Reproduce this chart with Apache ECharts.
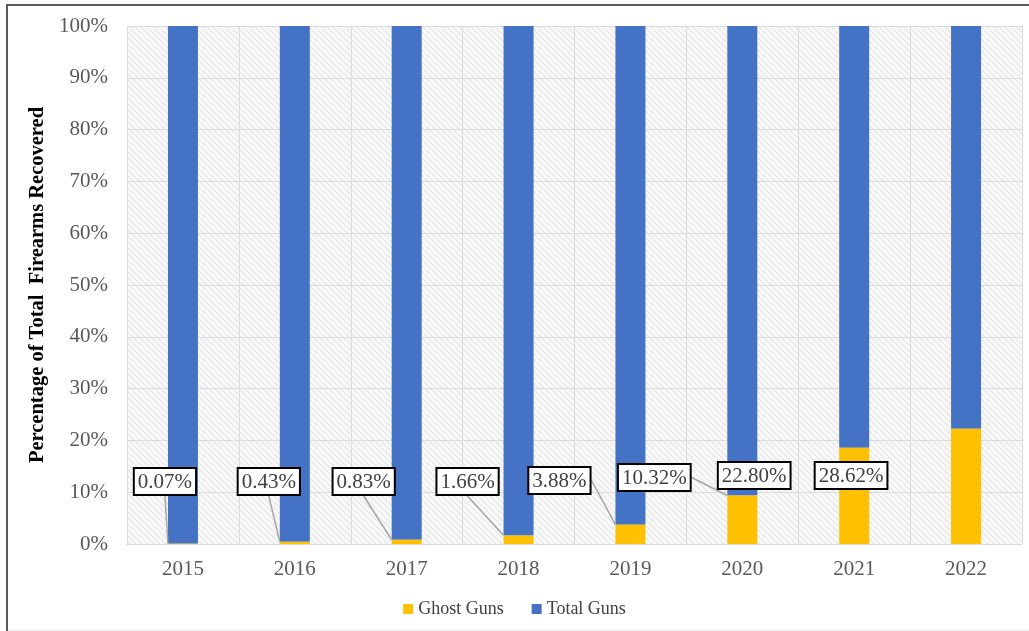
<!DOCTYPE html>
<html>
<head>
<meta charset="utf-8">
<script src="https://cdn.jsdelivr.net/npm/echarts@6/dist/echarts.min.js"></script>
<style>
  html, body { margin: 0; padding: 0; background: #fff; }
  #chart { width: 1029px; height: 631px; }
</style>
</head>
<body>
<div id="chart"></div>
<script>
// data
var years = ["2015", "2016", "2017", "2018", "2019", "2020", "2021", "2022"];
var ghostGuns = [0.07, 0.43, 0.83, 1.66, 3.88, 10.32, 22.8, 28.62]; // % of total guns
var totalGuns = [100, 100, 100, 100, 100, 100, 100, 100];
var yTicks = [0, 10, 20, 30, 40, 50, 60, 70, 80, 90, 100];

// callout box offsets (style only)
var labelDx = [-18, -26, -43, -51, -71, -88, -100, -115];
var labelDy = [-50, -50, -50, -50, -51, -54, -56, -56];

var SERIF = "'Liberation Serif', 'Times New Roman', serif";

// 100% stacked: share of each part in the bar
var ghostShare = ghostGuns.map(function(g, i) { return g / (g + totalGuns[i]) * 100; });
var totalShare = totalGuns.map(function(t, i) { return t / (ghostGuns[i] + t) * 100; });

// light diagonal hatch for the plot background
function hatch() {
  var c = document.createElement("canvas");
  c.width = 6; c.height = 6;
  var ctx = c.getContext("2d");
  ctx.fillStyle = "#f8f8f8";
  ctx.fillRect(0, 0, 6, 6);
  ctx.strokeStyle = "#e0e0e0";
  ctx.lineWidth = 1;
  ctx.beginPath();
  ctx.moveTo(0, 0); ctx.lineTo(6, 6);
  ctx.moveTo(-3, 3); ctx.lineTo(3, 9);
  ctx.moveTo(3, -3); ctx.lineTo(9, 3);
  ctx.stroke();
  return c;
}

var chart = echarts.init(document.getElementById("chart"));

var option = {
  animation: false,
  backgroundColor: "#fff",
  textStyle: { fontFamily: SERIF },
  graphic: [
    { type: "line", shape: { x1: 6, y1: 5, x2: 1029, y2: 5 }, style: { stroke: "#5a5a5a", lineWidth: 2 } },
    { type: "line", shape: { x1: 7, y1: 4, x2: 7, y2: 631 }, style: { stroke: "#5a5a5a", lineWidth: 2 } },
    { type: "line", shape: { x1: 8, y1: 630, x2: 1029, y2: 630 }, style: { stroke: "#e6e6e6", lineWidth: 1 } }
  ],
  grid: {
    left: 127,
    right: 7,
    top: 26,
    bottom: 87,
    show: true,
    borderWidth: 0,
    backgroundColor: { image: hatch(), repeat: "repeat" }
  },
  legend: {
    left: "center",
    top: 595,
    itemWidth: 10,
    itemHeight: 10,
    itemGap: 28,
    icon: "rect",
    textStyle: { fontFamily: SERIF, fontSize: 18, color: "#404040" },
    data: ["Ghost Guns", "Total Guns"]
  },
  xAxis: {
    type: "category",
    data: years,
    axisLine: { lineStyle: { color: "#d9d9d9", width: 1 } },
    axisTick: { show: false },
    axisLabel: { fontFamily: SERIF, fontSize: 21, color: "#595959", margin: 15 },
    splitLine: { show: true, lineStyle: { color: "#dcdcdc", width: 1 } }
  },
  yAxis: {
    type: "value",
    min: 0,
    max: 100,
    interval: 10,
    name: "Percentage of Total  Firearms Recovered",
    nameLocation: "middle",
    nameGap: 74,
    nameTextStyle: { fontFamily: SERIF, fontSize: 20.5, fontWeight: "bold", color: "#000" },
    axisLine: { show: false },
    axisTick: { show: false },
    axisLabel: {
      fontFamily: SERIF, fontSize: 21, color: "#595959", margin: 19,
      formatter: function(v) { return yTicks.indexOf(v) >= 0 ? v + "%" : ""; }
    },
    splitLine: { lineStyle: { color: "#dcdcdc", width: 1 } }
  },
  series: [
    {
      name: "Ghost Guns",
      type: "bar",
      stack: "all",
      barWidth: 30,
      itemStyle: { color: "#FFC000" },
      data: ghostShare.map(function(v, i) {
        return {
          value: v,
          labelLine: { show: i < 6 }
        };
      }),
      label: {
        show: true,
        position: "insideBottom",
        distance: 0,
        formatter: function(p) { return ghostGuns[p.dataIndex].toFixed(2) + "%"; },
        fontFamily: SERIF,
        fontSize: 21,
        lineHeight: 22,
        color: "#404040",
        backgroundColor: "#fff",
        borderColor: "#000",
        borderWidth: 2,
        padding: [2, 3, 1, 3]
      },
      labelLine: { show: true, lineStyle: { color: "#a6a6a6", width: 1.5 } },
      labelLayout: function(p) {
        return { dx: labelDx[p.dataIndex], dy: labelDy[p.dataIndex] };
      },
      z: 3
    },
    {
      name: "Total Guns",
      type: "bar",
      stack: "all",
      barWidth: 30,
      itemStyle: { color: "#4472C4" },
      data: totalShare
    }
  ]
};

chart.setOption(option);
</script>
</body>
</html>
